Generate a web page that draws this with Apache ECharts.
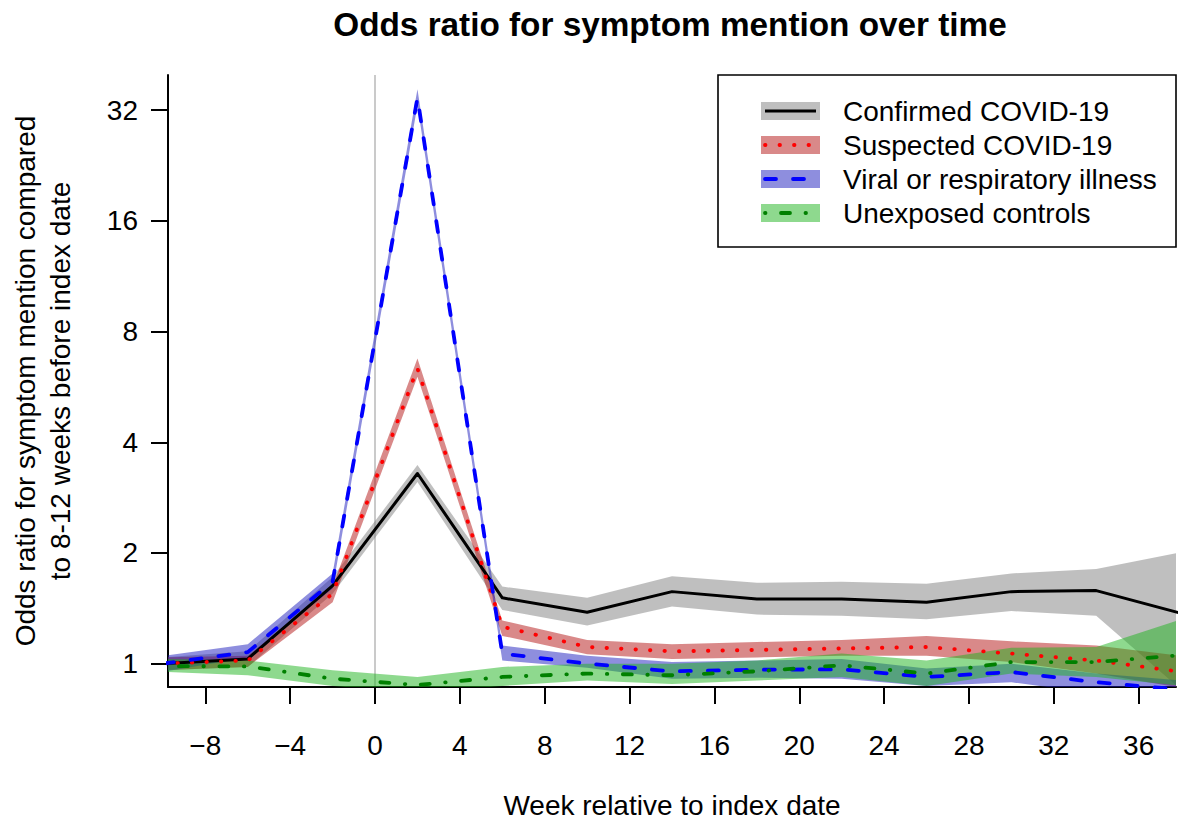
<!DOCTYPE html>
<html><head><meta charset="utf-8">
<script src="https://cdn.jsdelivr.net/npm/echarts@6/dist/echarts.min.js"></script>
<style>html,body{margin:0;padding:0;background:#fff}#c{width:1180px;height:824px}</style>
</head><body><div id="c"></div>
<script>
// ---- data ----
const weeks = [-10, -6, -2, 2, 6, 10, 14, 18, 22, 26, 30, 34, 38];

const confirmedEst = [1.00, 1.03, 1.63, 3.29, 1.51, 1.38, 1.57, 1.50, 1.50, 1.47, 1.57, 1.58, 1.37];
const confirmedLo  = [0.96, 0.98, 1.55, 3.12, 1.40, 1.27, 1.43, 1.36, 1.35, 1.32, 1.39, 1.35, 0.85];
const confirmedHi  = [1.04, 1.08, 1.72, 3.47, 1.62, 1.51, 1.73, 1.66, 1.67, 1.65, 1.76, 1.81, 2.01];

const suspectedEst = [1.00, 1.02, 1.55, 6.35, 1.26, 1.11, 1.08, 1.09, 1.10, 1.11, 1.065, 1.02, 0.95];
const suspectedLo  = [0.96, 0.98, 1.47, 6.03, 1.19, 1.06, 1.03, 1.04, 1.05, 1.05, 1.01, 0.94, 0.86];
const suspectedHi  = [1.04, 1.05, 1.62, 6.76, 1.31, 1.16, 1.13, 1.145, 1.16, 1.19, 1.15, 1.12, 1.05];

const viralEst = [1.00, 1.075, 1.67, 34.6, 1.065, 1.00, 0.953, 0.963, 0.965, 0.92, 0.949, 0.89, 0.85];
const viralLo  = [0.95, 1.04, 1.60, 33.0, 1.02, 0.975, 0.91, 0.916, 0.91, 0.87, 0.89, 0.83, 0.79];
const viralHi  = [1.05, 1.13, 1.76, 36.5, 1.12, 1.05, 1.01, 1.02, 1.03, 0.97, 1.00, 0.94, 0.90];

const controlEst = [0.985, 0.983, 0.91, 0.875, 0.92, 0.94, 0.93, 0.953, 0.99, 0.94, 1.01, 1.01, 1.055];
const controlLo  = [0.95, 0.93, 0.87, 0.83, 0.87, 0.90, 0.88, 0.90, 0.92, 0.87, 0.94, 0.92, 0.87];
const controlHi  = [1.03, 1.02, 0.96, 0.92, 0.98, 1.00, 1.00, 1.02, 1.065, 1.02, 1.105, 1.11, 1.32];

const seriesNames = ['Confirmed COVID-19', 'Suspected COVID-19', 'Viral or respiratory illness', 'Unexposed controls'];
const xTicks = [-8, -4, 0, 4, 8, 12, 16, 20, 24, 28, 32, 36];
const yTicks = [1, 2, 4, 8, 16, 32];

// ---- styles ----
const FONT = "'Liberation Sans', Arial, Helvetica, sans-serif";
const bandColors = ['rgba(128,128,128,0.5)', 'rgba(180,20,20,0.5)', 'rgba(30,30,190,0.5)', 'rgba(30,180,30,0.5)'];
const lineColors = ['#000000', '#ff0000', '#0000ff', '#008000'];
const lineDash = ['solid', [0.5, 14], [11, 17], [0.5, 15.5, 9, 15.5]];
const lineWidths = [3, 3.8, 3.8, 3.8];

const ests = [confirmedEst, suspectedEst, viralEst, controlEst];
const los = [confirmedLo, suspectedLo, viralLo, controlLo];
const his = [confirmedHi, suspectedHi, viralHi, controlHi];

function bandSeries(k) {
  const lo = los[k], hi = his[k];
  const s = {
    type: 'custom',
    name: seriesNames[k],
    coordinateSystem: 'cartesian2d',
    clip: true,
    silent: true,
    z: 1,
    itemStyle: { color: bandColors[k] },
    encode: { x: 0, y: [1, 2] },
    data: weeks.map((w, i) => [w, lo[i], hi[i]]),
    renderItem: function (params, api) {
      if (params.dataIndex !== 0) return null;
      const pts = [];
      for (let j = 0; j < weeks.length; j++) pts.push(api.coord([weeks[j], hi[j]]));
      for (let j = weeks.length - 1; j >= 0; j--) pts.push(api.coord([weeks[j], lo[j]]));
      return { type: 'polygon', shape: { points: pts }, style: { fill: bandColors[k] } };
    }
  };
  if (k === 0) {
    s.markLine = {
      silent: true, symbol: 'none', z: 0,
      label: { show: false },
      lineStyle: { color: '#bdbdbd', width: 1.6, type: 'solid' },
      data: [{ xAxis: 0 }]
    };
  }
  return s;
}

function lineSeries(k) {
  return {
    type: 'line',
    name: seriesNames[k],
    z: 3,
    symbol: 'none',
    silent: true,
    clip: true,
    lineStyle: { color: lineColors[k], width: lineWidths[k], type: lineDash[k], cap: 'round', join: 'round' },
    itemStyle: { color: lineColors[k] },
    data: weeks.map((w, i) => [w, ests[k][i]])
  };
}

const series = [];
for (let k = 0; k < 4; k++) series.push(bandSeries(k));
for (let k = 0; k < 4; k++) series.push(lineSeries(k));

// legend box and line samples drawn over the swatches
const legendRowY = [111, 145, 179, 213];
const legendGraphics = [{
  type: 'rect', z: 50,
  shape: { x: 718, y: 75, width: 458, height: 172 },
  style: { fill: 'none', stroke: '#000', lineWidth: 1.6 }
}];
for (let k = 0; k < 4; k++) {
  legendGraphics.push({
    type: 'line', z: 60,
    shape: { x1: 765, y1: legendRowY[k], x2: 816, y2: legendRowY[k] },
    style: {
      stroke: lineColors[k], lineWidth: lineWidths[k],
      lineDash: lineDash[k] === 'solid' ? null : lineDash[k],
      lineCap: k === 0 ? 'butt' : 'round'
    }
  });
}

const chart = echarts.init(document.getElementById('c'), null, { renderer: 'svg' });
chart.setOption({
  animation: false,
  backgroundColor: '#ffffff',
  title: {
    text: 'Odds ratio for symptom mention over time',
    left: 665, top: 3, textAlign: 'center',
    textStyle: { fontFamily: FONT, fontSize: 33.3, fontWeight: 'bold', color: '#000' }
  },
  grid: { left: 167, right: 4, top: 75, bottom: 137, containLabel: false },
  legend: {
    data: seriesNames,
    orient: 'vertical',
    left: 761, top: 97,
    padding: 0,
    icon: 'rect',
    itemWidth: 59, itemHeight: 18, itemGap: 6,
    selectedMode: false,
    textStyle: { fontFamily: FONT, fontSize: 28, color: '#000', padding: [0, 0, 0, 18] }
  },
  xAxis: {
    type: 'value',
    min: -9.76, max: 37.76,
    name: 'Week relative to index date',
    nameLocation: 'middle', nameGap: 104,
    nameTextStyle: { fontFamily: FONT, fontSize: 28, color: '#000' },
    axisLine: { show: true, onZero: false, lineStyle: { color: '#000', width: 2 } },
    axisTick: { show: true, length: 17, lineStyle: { color: '#000', width: 2 }, customValues: xTicks },
    axisLabel: {
      customValues: xTicks, margin: 44,
      fontFamily: FONT, fontSize: 28, color: '#000',
      formatter: v => (v < 0 ? '\u2212' + Math.abs(v) : String(v))
    },
    splitLine: { show: false }
  },
  yAxis: {
    type: 'log', logBase: 2,
    min: 0.864, max: 39.9,
    name: 'Odds ratio for symptom mention compared\nto 8-12 weeks before index date',
    nameLocation: 'middle', nameGap: 90,
    nameTextStyle: { fontFamily: FONT, fontSize: 28, color: '#000', lineHeight: 35 },
    axisLine: { show: true, onZero: false, lineStyle: { color: '#000', width: 2 } },
    axisTick: { show: true, length: 17, lineStyle: { color: '#000', width: 2 }, customValues: yTicks },
    axisLabel: {
      customValues: yTicks, margin: 30,
      fontFamily: FONT, fontSize: 28, color: '#000',
      formatter: v => String(Math.round(v))
    },
    splitLine: { show: false }
  },
  graphic: legendGraphics,
  series: series
});
</script>
</body></html>
